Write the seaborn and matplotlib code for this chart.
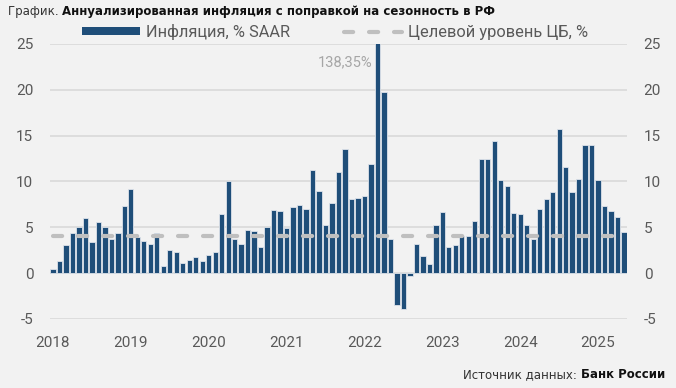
import seaborn as sns
import pandas as pd
import numpy as np
import matplotlib.pyplot as plt
from matplotlib.patches import Patch
from matplotlib.lines import Line2D

# data: monthly SAAR inflation, Jan 2018 .. May 2025
inflation = [
    0.5, 1.3, 3.1, 4.4, 5.0, 6.0, 3.4, 5.6, 5.0, 3.7, 4.4, 7.3,      # 2018
    9.2, 3.9, 3.5, 3.2, 4.4, 0.8, 2.5, 2.3, 1.1, 1.4, 1.8, 1.3,      # 2019
    2.0, 2.3, 6.5, 10.0, 3.7, 3.2, 4.7, 4.6, 2.8, 5.0, 6.9, 6.8,     # 2020
    4.9, 7.2, 7.4, 7.0, 11.2, 9.0, 5.2, 7.6, 11.0, 13.5, 8.1, 8.2,   # 2021
    8.4, 11.9, 138.35, 19.8, 3.7, -3.5, -3.9, -0.3, 3.2, 1.9, 1.0, 5.3,  # 2022
    6.7, 2.8, 3.1, 4.0, 4.0, 5.7, 12.5, 12.5, 14.4, 10.2, 9.5, 6.6,  # 2023
    6.5, 5.2, 3.7, 7.0, 8.1, 8.8, 15.7, 11.6, 8.9, 10.3, 14.0, 14.0, # 2024
    10.2, 7.3, 6.8, 6.1, 4.5,                                        # 2025
]
target = [4.0] * len(inflation)
years = ['2018', '2019', '2020', '2021', '2022', '2023', '2024', '2025']
peak_label = '138,35%'

months = pd.period_range('2018-01', periods=len(inflation), freq='M')
df = pd.DataFrame({'pos': np.arange(len(inflation)), 'month': months.astype(str),
                   'inflation': inflation, 'target': target})

bg = '#f2f2f2'
blue = '#1f4e79'
grey_line = '#bfbfbf'
txt = '#595959'

sns.set_theme(style='white')
plt.rcParams['font.family'] = ['Roboto', 'DejaVu Sans']
plt.rcParams['axes.unicode_minus'] = False

fig = plt.figure(figsize=(6.76, 3.88), dpi=100, facecolor=bg)
ax = fig.add_axes([0.074, 0.178, 0.8535, 0.7086])
ax.set_facecolor(bg)

# bars
sns.barplot(df, x='pos', y='inflation', native_scale=True, color=blue, saturation=1,
            width=0.82, edgecolor='#dde3ea', linewidth=0.6, ax=ax, zorder=2)

# target line
sns.lineplot(df, x='pos', y='target', color=grey_line, linewidth=3.0,
             linestyle=(0, (2.2, 3.8)), dash_capstyle='round', ax=ax, zorder=3)

ax.set_ylim(-5, 25)
ax.set_xlim(-0.45, len(inflation) - 0.55)
ax.set_yticks(range(-5, 26, 5))
ax.set_xticks(range(0, len(inflation), 12))
ax.set_xticklabels(years)
ax.set_xlabel('')
ax.set_ylabel('')
ax.yaxis.grid(True, color='#d9d9d9', linewidth=1.2, zorder=0)
ax.set_axisbelow(True)
for s in ax.spines.values():
    s.set_visible(False)
ax.tick_params(axis='y', length=0, pad=12, labelsize=11, labelcolor=txt,
               labelleft=True, labelright=True)
ax.tick_params(axis='x', length=0, pad=12, labelsize=11, labelcolor=txt)

# label for the clipped bar
peak = int(np.argmax(inflation))
ax.text(peak - 0.8, 23.0, peak_label, ha='right', va='center', fontsize=10.5, color='#a6a6a6')

# legend
handles = [Patch(facecolor=blue, edgecolor='none'),
           Line2D([0], [0], color=grey_line, linewidth=3.0, linestyle=(0, (2.2, 3.8)),
                  dash_capstyle='round')]
fig.legend(handles, ['Инфляция, % SAAR', 'Целевой уровень ЦБ, %'], ncol=2, loc='center',
           bbox_to_anchor=(0.496, 0.918), frameon=False, fontsize=11.8, labelcolor=txt,
           handlelength=3.5, handleheight=0.42, handletextpad=0.4, columnspacing=3.3)

# title and source with mixed weights
fig.canvas.draw()
r = fig.canvas.get_renderer()
t1 = fig.text(8 / 676, 1 - 11 / 388, 'График. ', ha='left', va='center', fontsize=8.5,
              color='#333333', family=['DejaVu Sans'])
bb = t1.get_window_extent(r).transformed(fig.transFigure.inverted())
fig.text(bb.x1, 1 - 11 / 388, 'Аннуализированная инфляция с поправкой на сезонность в РФ',
         ha='left', va='center', fontsize=8.5, fontweight='bold', color='#111111',
         family=['DejaVu Sans'])

s2 = fig.text(665 / 676, 1 - 375 / 388, 'Банк России', ha='right', va='center', fontsize=8.5,
              fontweight='bold', color='#111111', family=['DejaVu Sans'])
bb2 = s2.get_window_extent(r).transformed(fig.transFigure.inverted())
fig.text(bb2.x0, 1 - 375 / 388, 'Источник данных: ', ha='right', va='center', fontsize=8.5,
         color='#333333', family=['DejaVu Sans'])

fig.savefig('out.png', dpi=100, facecolor=bg)
